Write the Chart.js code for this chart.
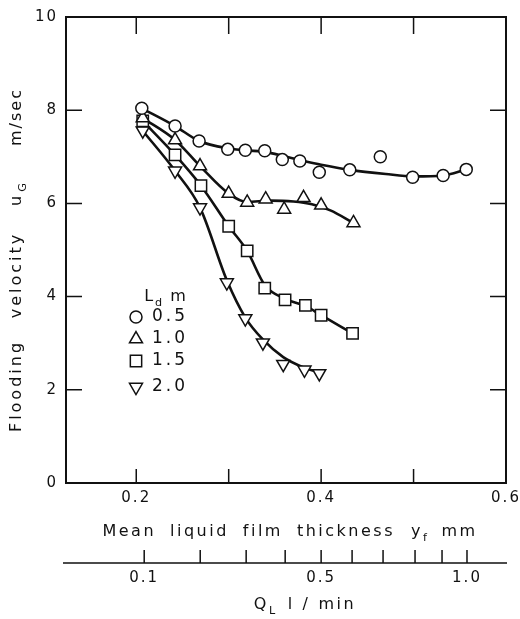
<!DOCTYPE html>
<html>
<head>
<meta charset="utf-8">
<script src="https://cdn.jsdelivr.net/npm/chart.js@4.4.1/dist/chart.umd.min.js"></script>
<style>
  html, body { margin: 0; padding: 0; background: #fff; }
</style>
</head>
<body>
<canvas id="floodChart" width="520" height="619"></canvas>
<script>
// Flooding velocity u_G against mean liquid film thickness, one series per length L_d

const lengthLabels = ['0.5', '1.0', '1.5', '2.0'];

// measured points (film thickness mm, velocity m/sec)
const filmL05 = [0.206, 0.242, 0.268, 0.299, 0.318, 0.339, 0.358, 0.377, 0.398, 0.431, 0.464, 0.499, 0.532, 0.557];
const velL05  = [8.04, 7.66, 7.34, 7.16, 7.14, 7.13, 6.94, 6.91, 6.67, 6.72, 7.00, 6.56, 6.60, 6.73];
const filmL10 = [0.207, 0.242, 0.269, 0.300, 0.320, 0.340, 0.360, 0.381, 0.400, 0.435];
const velL10  = [7.83, 7.36, 6.80, 6.21, 6.02, 6.09, 5.87, 6.12, 5.96, 5.58];
const filmL15 = [0.207, 0.242, 0.270, 0.300, 0.320, 0.339, 0.361, 0.383, 0.400, 0.434];
const velL15  = [7.77, 7.04, 6.38, 5.51, 4.98, 4.18, 3.93, 3.81, 3.60, 3.21];
const filmL20 = [0.207, 0.242, 0.269, 0.298, 0.318, 0.337, 0.359, 0.382, 0.398];
const velL20  = [7.56, 6.70, 5.91, 4.30, 3.53, 3.01, 2.55, 2.43, 2.35];

// smoothed curves drawn through the points
const curveFilmL05 = [0.206, 0.242, 0.268, 0.300, 0.340, 0.377, 0.400, 0.431, 0.470, 0.500, 0.532, 0.557];
const curveVelL05  = [8.04, 7.66, 7.34, 7.18, 7.10, 6.93, 6.83, 6.72, 6.63, 6.58, 6.60, 6.73];
const curveFilmL10 = [0.207, 0.242, 0.269, 0.300, 0.320, 0.345, 0.370, 0.390, 0.410, 0.435];
const curveVelL10  = [7.83, 7.36, 6.80, 6.21, 6.03, 6.06, 6.04, 5.98, 5.85, 5.58];
const curveFilmL15 = [0.207, 0.242, 0.270, 0.300, 0.320, 0.339, 0.361, 0.383, 0.400, 0.434];
const curveVelL15  = [7.77, 7.04, 6.38, 5.51, 4.98, 4.25, 3.95, 3.80, 3.60, 3.21];
const curveFilmL20 = [0.207, 0.242, 0.269, 0.298, 0.318, 0.337, 0.359, 0.382, 0.398];
const curveVelL20  = [7.56, 6.70, 5.91, 4.35, 3.55, 3.08, 2.70, 2.47, 2.37];

// axes
const xTicks = [0.2, 0.3, 0.4, 0.5, 0.6];
const xTickLabels = [0.2, 0.4, 0.6];
const yTicks = [0, 2, 4, 6, 8, 10];
// second scale: liquid rate Q_L and where it falls on the film thickness scale
const qlTicks = ['0.1', '', '', '', '0.5', '', '', '', '', '1.0'];
const qlAtFilm = [0.2086, 0.2692, 0.3189, 0.3611, 0.4000, 0.4335, 0.4670, 0.5016, 0.5308, 0.5578];

const INK = '#111';
const FONT = '"DejaVu Sans", sans-serif';

const markerStyles = [
    { pointStyle: 'circle', radius: 6, rotation: 0 },
    { pointStyle: 'triangle', radius: 7.5, rotation: 0 },
    { pointStyle: 'rect', radius: 8, rotation: 0 },
    { pointStyle: 'triangle', radius: 7.5, rotation: 180 }
];

function toPoints(xs, ys) {
    return xs.map((x, i) => ({ x: x, y: ys[i] }));
}

function markerSet(xs, ys, k) {
    const m = markerStyles[k];
    return {
        label: lengthLabels[k],
        data: toPoints(xs, ys),
        showLine: false,
        pointStyle: m.pointStyle,
        pointRadius: m.radius,
        pointRotation: m.rotation,
        pointBorderWidth: 1.5,
        pointBorderColor: INK,
        pointBackgroundColor: '#fff',
        order: 0
    };
}

function curveSet(xs, ys) {
    return {
        data: toPoints(xs, ys),
        showLine: true,
        pointRadius: 0,
        borderColor: INK,
        borderWidth: 2.6,
        cubicInterpolationMode: 'monotone',
        order: 1
    };
}

// text with subscripts, centred at cx
function drawRich(ctx, parts, cx, cy, size, spacing) {
    ctx.save();
    ctx.letterSpacing = spacing + 'px';
    ctx.textBaseline = 'middle';
    ctx.textAlign = 'left';
    ctx.fillStyle = INK;
    const widths = parts.map(p => {
        ctx.font = (p.sub ? size * 0.7 : size) + 'px ' + FONT;
        return ctx.measureText(p.t).width + (p.gap || 0);
    });
    let x = cx - widths.reduce((a, b) => a + b, 0) / 2;
    parts.forEach((p, i) => {
        ctx.font = (p.sub ? size * 0.7 : size) + 'px ' + FONT;
        ctx.fillText(p.t, x, cy + (p.sub ? size * 0.35 : 0));
        x += widths[i];
    });
    ctx.restore();
}

const framePlugin = {
    id: 'frame',
    beforeDraw(chart) {
        chart.ctx.letterSpacing = '2px';
    },
    afterDraw(chart) {
        const ctx = chart.ctx;
        const a = chart.chartArea;
        const xs = chart.scales.x, ys = chart.scales.y, x2 = chart.scales.x2;
        ctx.save();
        ctx.strokeStyle = INK;
        ctx.lineWidth = 2;
        ctx.strokeRect(a.left, a.top, a.right - a.left, a.bottom - a.top);

        // inward ticks
        ctx.lineWidth = 1.5;
        ctx.beginPath();
        xTicks.slice(0, -1).forEach(v => {
            const px = xs.getPixelForValue(v);
            ctx.moveTo(px, a.bottom); ctx.lineTo(px, a.bottom - 14);
            ctx.moveTo(px, a.top); ctx.lineTo(px, a.top + 17);
        });
        yTicks.slice(1, -1).forEach(v => {
            const py = ys.getPixelForValue(v);
            ctx.moveTo(a.left, py); ctx.lineTo(a.left + 16, py);
            ctx.moveTo(a.right, py); ctx.lineTo(a.right - 16, py);
        });
        // Q_L scale ticks point up from its line
        qlAtFilm.forEach(v => {
            const px = x2.getPixelForValue(v);
            ctx.moveTo(px, x2.top); ctx.lineTo(px, x2.top - 13);
        });
        ctx.moveTo(a.left - 3, x2.top); ctx.lineTo(a.right + 1, x2.top);
        ctx.stroke();
        ctx.restore();

        // axis titles
        drawRich(ctx, [
            { t: 'Mean', gap: 14 }, { t: 'liquid', gap: 14 }, { t: 'film', gap: 14 },
            { t: 'thickness', gap: 16 }, { t: 'y' }, { t: 'f', sub: true, gap: 12 }, { t: 'mm' }
        ], 290, 532, 16, 2.5);
        drawRich(ctx, [
            { t: 'Q' }, { t: 'L', sub: true, gap: 10 }, { t: 'l', gap: 8 }, { t: '/', gap: 8 }, { t: 'min' }
        ], 305, 605, 16, 2.5);

        ctx.save();
        ctx.translate(17, 0);
        ctx.rotate(-Math.PI / 2);
        drawRich(ctx, [{ t: 'Flooding' }], -386, 0, 16, 3);
        drawRich(ctx, [{ t: 'velocity' }], -275, 0, 16, 3);
        drawRich(ctx, [{ t: 'u', gap: 1 }, { t: 'G', sub: true }], -193, 0, 16, 3);
        drawRich(ctx, [{ t: 'm/sec' }], -117, 0, 16, 2);
        ctx.restore();

        // legend block inside the plot
        drawRich(ctx, [{ t: 'L' }, { t: 'd', sub: true, gap: 6 }, { t: 'm' }], 166, 297, 16, 2);
        const rows = [317, 339, 361, 387];
        rows.forEach((ry, k) => {
            const m = markerStyles[k];
            ctx.save();
            ctx.fillStyle = '#fff';
            ctx.strokeStyle = INK;
            ctx.lineWidth = 1.5;
            Chart.helpers.drawPoint(ctx, {
                pointStyle: m.pointStyle, radius: m.radius, rotation: m.rotation, borderWidth: 1.5
            }, 136, ry);
            ctx.restore();
            ctx.save();
            ctx.letterSpacing = '3px';
            ctx.font = '17px ' + FONT;
            ctx.fillStyle = INK;
            ctx.textBaseline = 'middle';
            ctx.textAlign = 'left';
            ctx.fillText(lengthLabels[k], 152, ry);
            ctx.restore();
        });
    }
};

const ctx = document.getElementById('floodChart').getContext('2d');
const floodChart = new Chart(ctx, {
    type: 'scatter',
    data: {
        datasets: [
            markerSet(filmL05, velL05, 0),
            markerSet(filmL10, velL10, 1),
            markerSet(filmL15, velL15, 2),
            markerSet(filmL20, velL20, 3),
            curveSet(curveFilmL05, curveVelL05),
            curveSet(curveFilmL10, curveVelL10),
            curveSet(curveFilmL15, curveVelL15),
            curveSet(curveFilmL20, curveVelL20)
        ]
    },
    options: {
        responsive: false,
        animation: false,
        devicePixelRatio: 1,
        layout: {
            padding: { top: 13, right: 14, left: 0, bottom: 0 }
        },
        plugins: {
            legend: { display: false },
            tooltip: { enabled: false }
        },
        scales: {
            x: {
                type: 'linear',
                position: 'bottom',
                min: 0.124,
                max: 0.6,
                grid: { display: false, drawTicks: false },
                border: { display: false },
                afterBuildTicks: scale => {
                    scale.ticks = xTicks.map(v => ({ value: v }));
                },
                afterFit: scale => {
                    scale.height = 80;
                    scale.paddingLeft = 0;
                    scale.paddingRight = 0;
                },
                ticks: {
                    autoSkip: false,
                    maxRotation: 0,
                    padding: 6,
                    color: INK,
                    font: { family: FONT, size: 15 },
                    callback: v => xTickLabels.includes(v) ? v.toFixed(1) : ''
                }
            },
            x2: {
                type: 'linear',
                position: 'bottom',
                min: 0.124,
                max: 0.6,
                grid: { display: false, drawTicks: false },
                border: { display: false },
                afterBuildTicks: scale => {
                    scale.ticks = qlAtFilm.map(v => ({ value: v }));
                },
                afterFit: scale => {
                    scale.height = 56;
                    scale.paddingLeft = 0;
                    scale.paddingRight = 0;
                },
                ticks: {
                    autoSkip: false,
                    maxRotation: 0,
                    padding: 6,
                    color: INK,
                    font: { family: FONT, size: 15 },
                    callback: (v, i) => qlTicks[i]
                }
            },
            y: {
                type: 'linear',
                min: 0,
                max: 10,
                grid: { display: false, drawTicks: false },
                border: { display: false },
                afterBuildTicks: scale => {
                    scale.ticks = yTicks.map(v => ({ value: v }));
                },
                afterFit: scale => {
                    scale.width = 66;
                },
                ticks: {
                    padding: 8,
                    color: INK,
                    font: { family: FONT, size: 15 },
                    callback: v => String(v)
                }
            }
        }
    },
    plugins: [framePlugin]
});
</script>
</body>
</html>
